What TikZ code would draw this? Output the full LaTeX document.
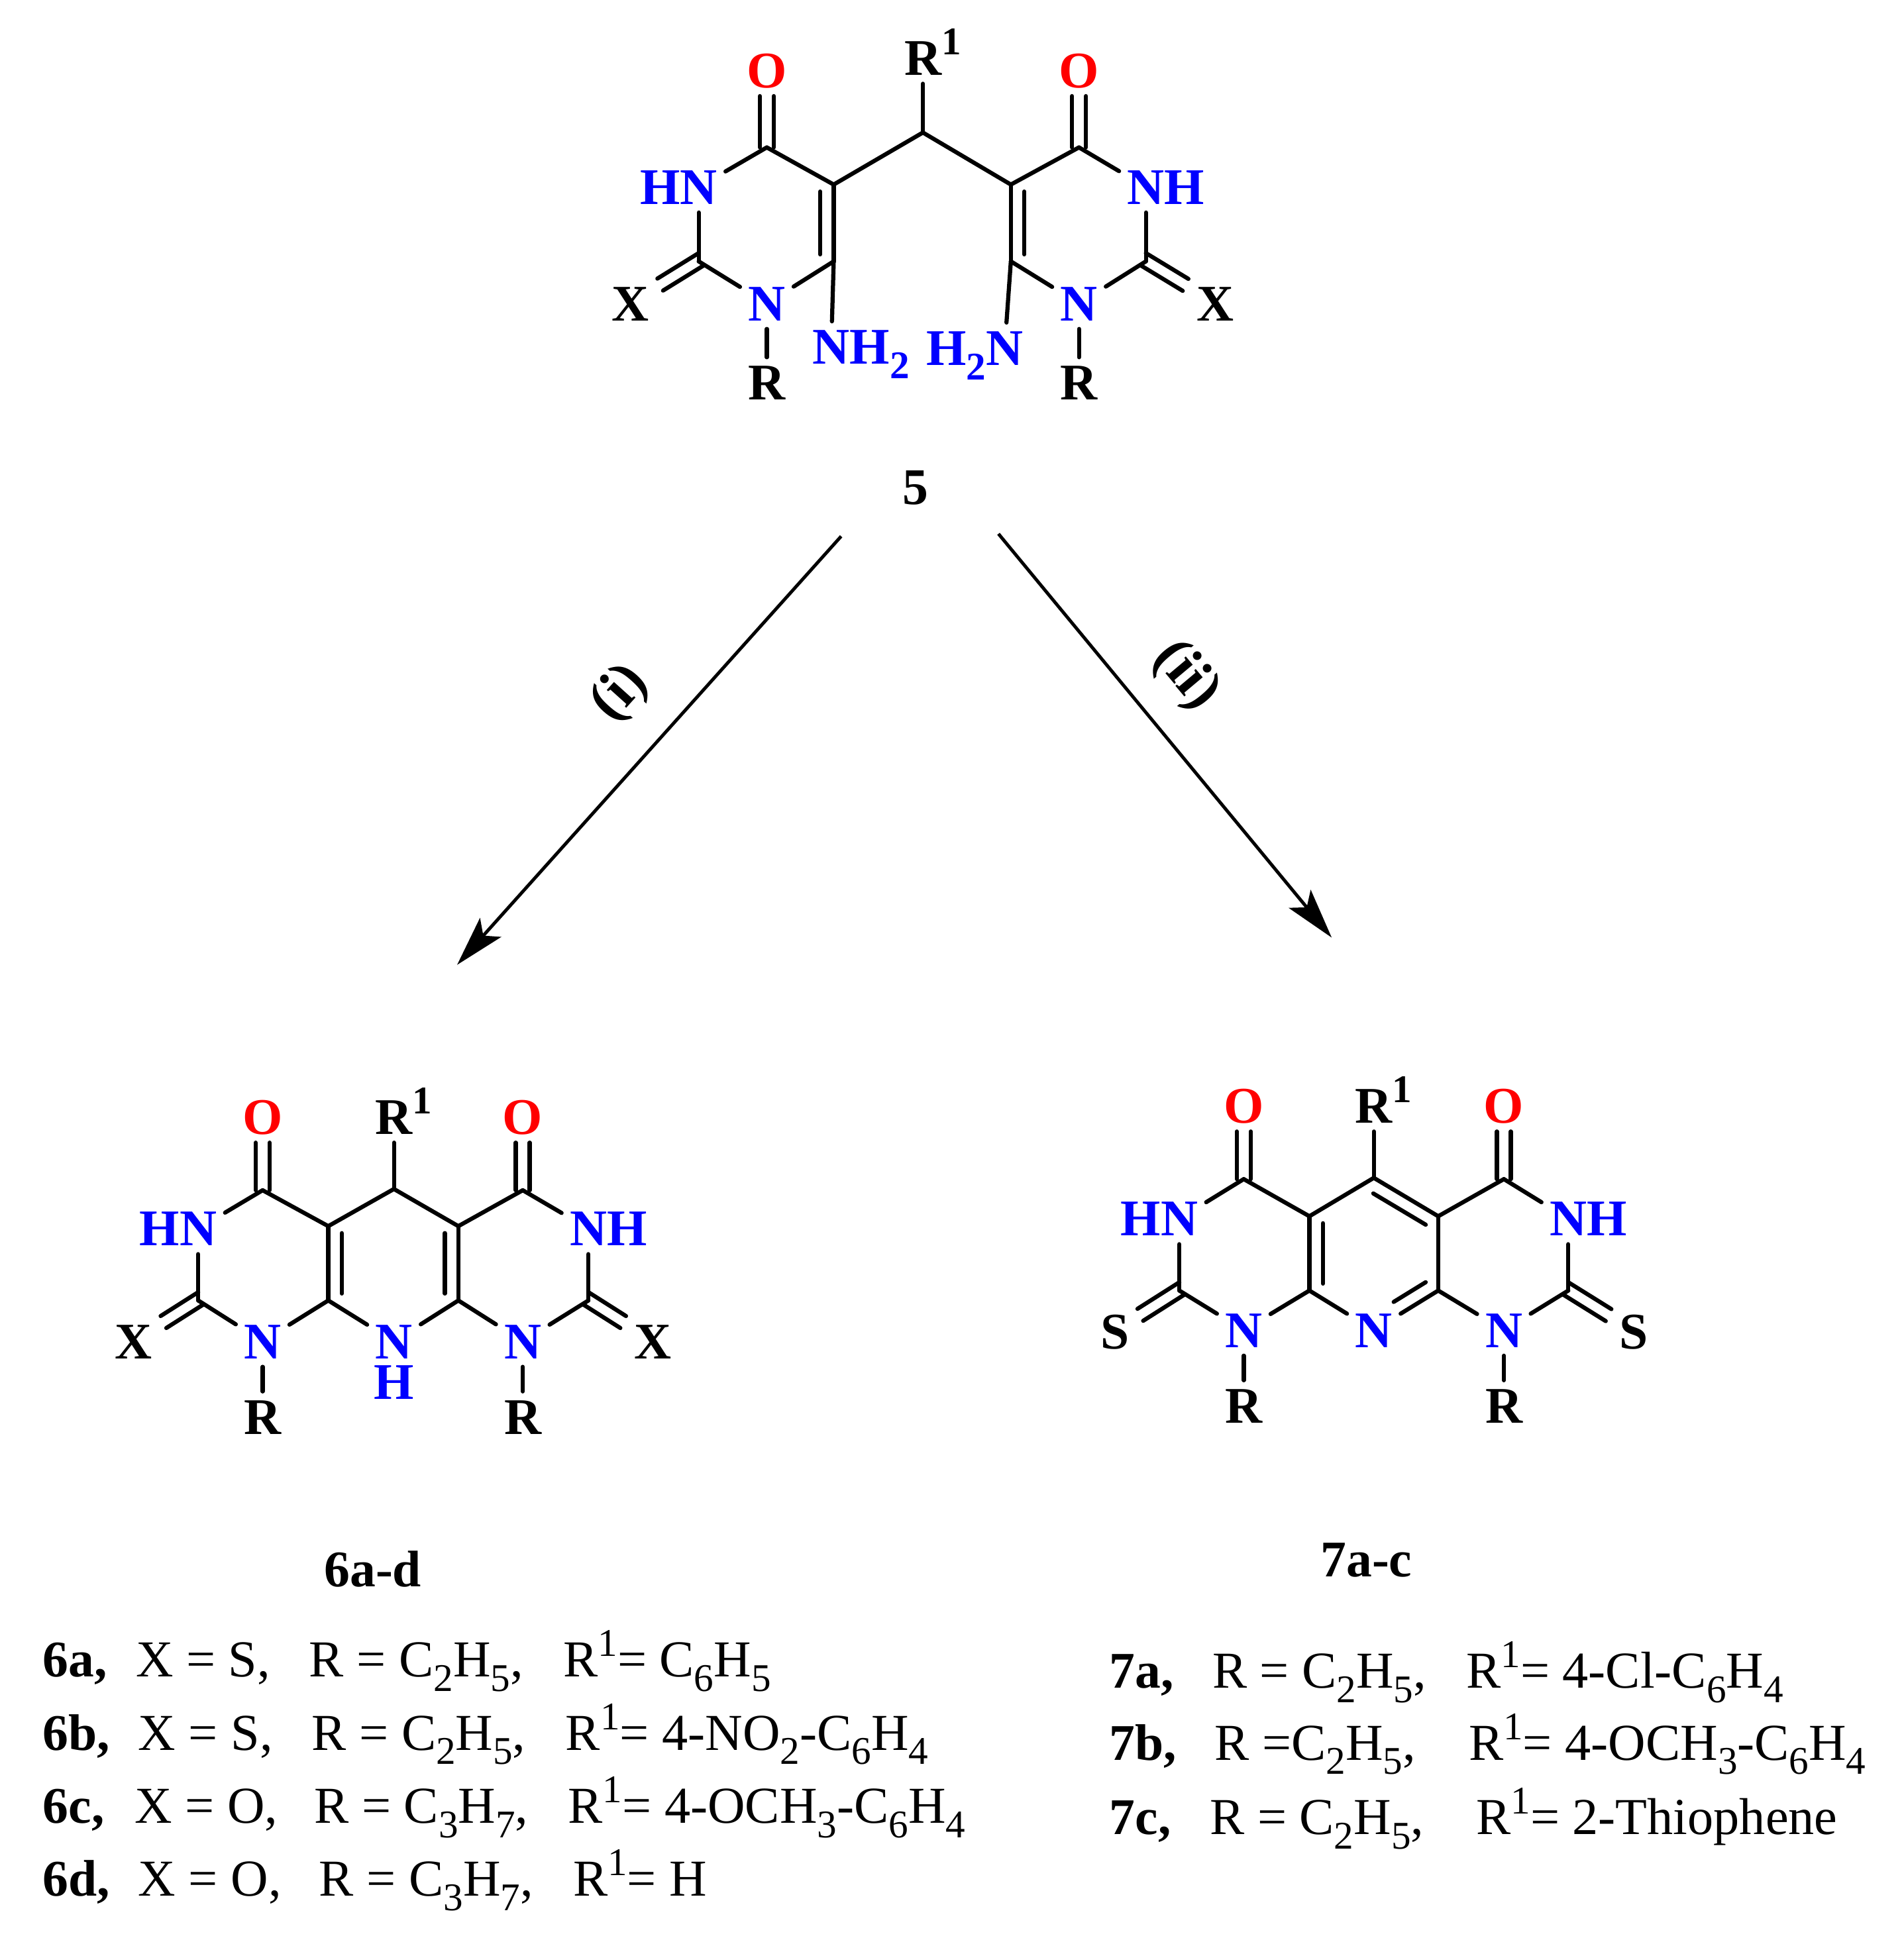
\documentclass[tikz,border=0pt]{standalone}
\usepackage{fontspec}
\setmainfont{Liberation Serif}
\usetikzlibrary{arrows.meta}

\newcommand{\supr}[1]{\raisebox{4.7pt}{\fontsize{9}{9}\selectfont #1}}
\newcommand{\subr}[1]{\raisebox{-3.3pt}{\fontsize{9}{9}\selectfont #1}}

\tikzset{
  bond/.style={line width=0.95pt, line cap=round},
  bondx/.style={bond, transform canvas={xshift=#1}},
  bondup/.style={bond, transform canvas={yshift=1.9pt}},
  bondlo/.style={bond, transform canvas={xshift=#1, yshift=-0.85pt}},
  ringin/.style={bond, shorten <=1.6pt, shorten >=1.6pt, transform canvas={xshift=#1}},
  rxn/.style={line width=0.75pt, -{Stealth[length=11.5pt, width=6.5pt, inset=2.5pt]}},
  atom/.style={font=\fontsize{11.8}{12}\selectfont\bfseries, inner sep=1.7pt, text height=7.9pt, text depth=0pt},
  hetero/.style={atom, text=blue},
  oxy/.style={atom, text=red},
  stepmark/.style={font=\fontsize{13.2}{14}\selectfont\bfseries, inner sep=0pt},
  title/.style={font=\fontsize{11.8}{12}\selectfont\bfseries, inner sep=0pt, anchor=base},
  entry/.style={font=\fontsize{11.9}{12}\selectfont, inner sep=0pt, anchor=base west},
  entryb/.style={entry, font=\fontsize{11.8}{12}\selectfont\bfseries},
}

\begin{document}
\begin{tikzpicture}[x=0.01cm, y=-0.01cm]
  \useasboundingbox (0, 0) rectangle (1537, 1568);

  % compound 5
  \coordinate (ca) at (745, 107);
  \coordinate (c4a) at (619, 119);
  \coordinate (c5a) at (673, 149);
  \coordinate (c6a) at (673, 211);
  \coordinate (c2a) at (564, 211);
  \coordinate (c4b) at (871, 119);
  \coordinate (c5b) at (816, 149);
  \coordinate (c6b) at (816, 211);
  \coordinate (c2b) at (925, 211);

  \node[atom] (rta) at (745, 47) {R\rlap{\supr{1}}};
  \node[oxy] (oa) at (619, 57) {O};
  \node[oxy] (ob) at (871, 57) {O};
  \node[hetero] (n3a) at (564, 151) {\llap{H}N};
  \node[hetero] (n3b) at (925, 151) {N\rlap{H}};
  \node[hetero] (n1a) at (619, 245) {N};
  \node[hetero] (n1b) at (871, 245) {N};
  \node[atom] (xa) at (509, 245) {X};
  \node[atom] (xb) at (981, 245) {X};
  \node[atom] (ra) at (619, 309) {R};
  \node[atom] (rb) at (871, 309) {R};
  \node[hetero] (nha) at (671, 280) {N\rlap{H\subr{2}}};
  \node[hetero] (nhb) at (811, 281) {\llap{H\subr{2}}N};
  \node[title] (lab5) at (739, 407) {5};

  \draw[bond] (ca) -- (rta);
  \draw[bond] (ca) -- (c5a);
  \draw[bond] (ca) -- (c5b);
  \draw[bond] (c5a) -- (c4a);
  \draw[bond] (c4a) -- (n3a);
  \draw[bond] (n3a) -- (c2a);
  \draw[bond] (c2a) -- (n1a);
  \draw[bond] (n1a) -- (c6a);
  \draw[bond] (c6a) -- (c5a);
  \draw[ringin=-3.1pt] (c5a) -- (c6a);
  \draw[bond] (c6a) -- (nha);
  \draw[bond] (n1a) -- (ra);
  \draw[bondx=-1.6pt] (c4a) -- (oa);
  \draw[bondx=1.6pt] (c4a) -- (oa);
  \draw[bondup] (c2a) -- (xa);
  \draw[bondlo=1.3pt] (c2a) -- (xa);
  \draw[bond] (c5b) -- (c4b);
  \draw[bond] (c4b) -- (n3b);
  \draw[bond] (n3b) -- (c2b);
  \draw[bond] (c2b) -- (n1b);
  \draw[bond] (n1b) -- (c6b);
  \draw[bond] (c6b) -- (c5b);
  \draw[ringin=3.1pt] (c5b) -- (c6b);
  \draw[bond] (c6b) -- (nhb);
  \draw[bond] (n1b) -- (rb);
  \draw[bondx=-1.6pt] (c4b) -- (ob);
  \draw[bondx=1.6pt] (c4b) -- (ob);
  \draw[bondup] (c2b) -- (xb);
  \draw[bondlo=-1.3pt] (c2b) -- (xb);

  % arrows
  \coordinate (arla) at (679, 433);
  \coordinate (arlb) at (369, 779);
  \coordinate (arra) at (806, 431);
  \coordinate (arrb) at (1075, 757);
  \draw[rxn] (arla) -- (arlb);
  \draw[rxn] (arra) -- (arrb);
  \node[stepmark, rotate=48] (stepi) at (501, 560) {(i)};
  \node[stepmark, rotate=-50] (stepii) at (957, 546) {(ii)};

  % compound 6
  \coordinate (cf) at (318, 960);
  \coordinate (c4f) at (212, 961);
  \coordinate (c5f) at (265, 990);
  \coordinate (c6f) at (265, 1050);
  \coordinate (c2f) at (160, 1050);
  \coordinate (c4g) at (422, 961);
  \coordinate (c5g) at (370, 990);
  \coordinate (c6g) at (370, 1050);
  \coordinate (c2g) at (475, 1050);

  \node[atom] (rtf) at (318, 902) {R\rlap{\supr{1}}};
  \node[oxy] (of) at (212, 902) {O};
  \node[oxy] (og) at (422, 902) {O};
  \node[hetero] (n3f) at (160, 992) {\llap{H}N};
  \node[hetero] (n3g) at (475, 992) {N\rlap{H}};
  \node[hetero] (n1f) at (212, 1083) {N};
  \node[hetero] (n1g) at (422, 1083) {N};
  \node[hetero] (nhf) at (318, 1083) {N};
  \node[hetero] (hf) at (318, 1116) {H};
  \node[atom] (xf) at (108, 1083) {X};
  \node[atom] (xg) at (527, 1083) {X};
  \node[atom] (rf) at (212, 1144) {R};
  \node[atom] (rg) at (422, 1144) {R};
  \node[title] (lab6) at (301, 1281) {6a-d};

  \draw[bond] (cf) -- (rtf);
  \draw[bond] (cf) -- (c5f);
  \draw[bond] (cf) -- (c5g);
  \draw[bond] (c5f) -- (c4f);
  \draw[bond] (c4f) -- (n3f);
  \draw[bond] (n3f) -- (c2f);
  \draw[bond] (c2f) -- (n1f);
  \draw[bond] (n1f) -- (c6f);
  \draw[bond] (c6f) -- (c5f);
  \draw[ringin=3.1pt] (c5f) -- (c6f);
  \draw[bond] (c6f) -- (nhf);
  \draw[bond] (n1f) -- (rf);
  \draw[bondx=-1.6pt] (c4f) -- (of);
  \draw[bondx=1.6pt] (c4f) -- (of);
  \draw[bondup] (c2f) -- (xf);
  \draw[bondlo=1.3pt] (c2f) -- (xf);
  \draw[bond] (c5g) -- (c4g);
  \draw[bond] (c4g) -- (n3g);
  \draw[bond] (n3g) -- (c2g);
  \draw[bond] (c2g) -- (n1g);
  \draw[bond] (n1g) -- (c6g);
  \draw[bond] (c6g) -- (c5g);
  \draw[ringin=-3.1pt] (c5g) -- (c6g);
  \draw[bond] (c6g) -- (nhf);
  \draw[bond] (n1g) -- (rg);
  \draw[bondx=-1.6pt] (c4g) -- (og);
  \draw[bondx=1.6pt] (c4g) -- (og);
  \draw[bondup] (c2g) -- (xg);
  \draw[bondlo=-1.3pt] (c2g) -- (xg);

  % compound 7
  \coordinate (cs) at (1109, 951);
  \coordinate (c4s) at (1004, 952);
  \coordinate (c5s) at (1057, 982);
  \coordinate (c6s) at (1057, 1042);
  \coordinate (c2s) at (952, 1042);
  \coordinate (c4t) at (1214, 952);
  \coordinate (c5t) at (1161, 982);
  \coordinate (c6t) at (1161, 1042);
  \coordinate (c2t) at (1266, 1042);

  \node[atom] (rts) at (1109, 893) {R\rlap{\supr{1}}};
  \node[oxy] (os) at (1004, 893) {O};
  \node[oxy] (ot) at (1214, 893) {O};
  \node[hetero] (n3s) at (952, 984) {\llap{H}N};
  \node[hetero] (n3t) at (1266, 984) {N\rlap{H}};
  \node[hetero] (n1s) at (1004, 1074) {N};
  \node[hetero] (n1t) at (1214, 1074) {N};
  \node[hetero] (ns) at (1109, 1074) {N};
  \node[atom] (xs) at (900, 1075) {S};
  \node[atom] (xt) at (1319, 1075) {S};
  \node[atom] (rs) at (1004, 1135) {R};
  \node[atom] (rt) at (1214, 1135) {R};
  \node[title] (lab7) at (1103, 1273) {7a-c};

  \draw[bond] (cs) -- (rts);
  \draw[bond] (cs) -- (c5s);
  \draw[bond] (cs) -- (c5t);
  \draw[bond, shorten <=1.6pt, shorten >=1.6pt, transform canvas={xshift=-1.5pt, yshift=-2.76pt}] (cs) -- (c5t);
  \draw[bond] (c5s) -- (c4s);
  \draw[bond] (c4s) -- (n3s);
  \draw[bond] (n3s) -- (c2s);
  \draw[bond] (c2s) -- (n1s);
  \draw[bond] (n1s) -- (c6s);
  \draw[bond] (c6s) -- (c5s);
  \draw[ringin=3.1pt] (c5s) -- (c6s);
  \draw[bond] (c6s) -- (ns);
  \draw[bond] (n1s) -- (rs);
  \draw[bondx=-1.6pt] (c4s) -- (os);
  \draw[bondx=1.6pt] (c4s) -- (os);
  \draw[bondup] (c2s) -- (xs);
  \draw[bondlo=1.3pt] (c2s) -- (xs);
  \draw[bond] (c5t) -- (c4t);
  \draw[bond] (c4t) -- (n3t);
  \draw[bond] (n3t) -- (c2t);
  \draw[bond] (c2t) -- (n1t);
  \draw[bond] (n1t) -- (c6t);
  \draw[bond] (c6t) -- (c5t);
  \draw[bond] (c6t) -- (ns);
  \draw[bond, shorten <=1.5pt, transform canvas={xshift=-1.6pt, yshift=2.7pt}] (c6t) -- (ns);
  \draw[bond] (n1t) -- (rt);
  \draw[bondx=-1.6pt] (c4t) -- (ot);
  \draw[bondx=1.6pt] (c4t) -- (ot);
  \draw[bondup] (c2t) -- (xt);
  \draw[bondlo=-1.3pt] (c2t) -- (xt);

  % list for 6
  \node[entryb] (ida) at (34, 1354) {6a,};
  \node[entry] (xda) at (109, 1354) {X = S,};
  \node[entry] (rda) at (249, 1354) {R = C\subr{2}H\subr{5},};
  \node[entry] (sda) at (454, 1354) {R\supr{1}= C\subr{6}H\subr{5}};
  \node[entryb] (idb) at (34, 1413) {6b,};
  \node[entry] (xdb) at (111, 1413) {X = S,};
  \node[entry] (rdb) at (251, 1413) {R = C\subr{2}H\subr{5},};
  \node[entry] (sdb) at (456, 1413) {R\supr{1}= 4-NO\subr{2}-C\subr{6}H\subr{4}};
  \node[entryb] (idc) at (34, 1472) {6c,};
  \node[entry] (xdc) at (108, 1472) {X = O,};
  \node[entry] (rdc) at (253, 1472) {R = C\subr{3}H\subr{7},};
  \node[entry] (sdc) at (458, 1472) {R\supr{1}= 4-OCH\subr{3}-C\subr{6}H\subr{4}};
  \node[entryb] (idd) at (34, 1531) {6d,};
  \node[entry] (xdd) at (111, 1531) {X = O,};
  \node[entry] (rdd) at (257, 1531) {R = C\subr{3}H\subr{7},};
  \node[entry] (sdd) at (462, 1531) {R\supr{1}= H};

  % list for 7
  \node[entryb] (ise) at (895, 1363) {7a,};
  \node[entry] (rse) at (978, 1363) {R = C\subr{2}H\subr{5},};
  \node[entry] (sse) at (1183, 1363) {R\supr{1}= 4-Cl-C\subr{6}H\subr{4}};
  \node[entryb] (isf) at (895, 1421) {7b,};
  \node[entry] (rsf) at (980, 1421) {R =C\subr{2}H\subr{5},};
  \node[entry] (ssf) at (1185, 1421) {R\supr{1}= 4-OCH\subr{3}-C\subr{6}H\subr{4}};
  \node[entryb] (isg) at (895, 1481) {7c,};
  \node[entry] (rsg) at (976, 1481) {R = C\subr{2}H\subr{5},};
  \node[entry] (ssg) at (1191, 1481) {R\supr{1}= 2-Thiophene};
\end{tikzpicture}
\end{document}
